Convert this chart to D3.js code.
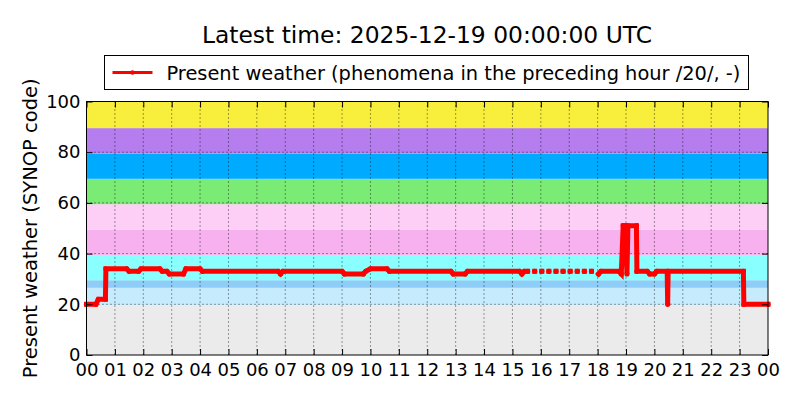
<!DOCTYPE html>
<html>
<head>
<meta charset="utf-8">
<script src="https://cdn.jsdelivr.net/npm/d3@7"></script>
<style>
  body { margin: 0; background: #fff; }
  text { font-family: "DejaVu Sans", sans-serif; fill: #000; }
</style>
</head>
<body>
<div id="chart"></div>
<script>
// Data
var titleText = "Latest time: 2025-12-19 00:00:00 UTC";
var legendText = "Present weather (phenomena in the preceding hour /20/, -)";
var yLabel = "Present weather (SYNOP code)";

var hourTicks = ["00","01","02","03","04","05","06","07","08","09","10","11",
                 "12","13","14","15","16","17","18","19","20","21","22","23","00"];
var yTicks = [0, 20, 40, 60, 80, 100];

// Background bands of SYNOP code groups
var bandLows   = [0, 19.5, 26.5, 29.5, 39.5, 49.5, 59.5, 69.5, 79.5, 89.5];
var bandHighs  = [19.5, 26.5, 29.5, 39.5, 49.5, 59.5, 69.5, 79.5, 89.5, 100];
var bandColors = ["#ebebeb", "#c6ebfd", "#8dcdf7", "#8affff", "#f6b1ee",
                  "#fdcff6", "#7aeb74", "#00aaff", "#b57ded", "#f7ef3c"];

// Observation times (HH:MM, "24:00" = end of day) and codes; null = missing
var obsTimes = [
  "00:00","00:20","00:25","00:40","00:41","01:25","01:30","01:50","01:55","02:35",
  "02:40","02:50","02:55","03:25","03:30","04:00","04:05","06:45","06:50","06:55",
  "09:00","09:05","09:45","09:50","10:00","10:35","10:40","12:50","12:55","13:20",
  "13:25","15:15","15:20","15:25","15:32","15:40","15:47","15:55","16:02","16:10",
  "16:17","16:25","16:32","16:40","16:47","16:55","17:02","17:10","17:17","17:25",
  "17:32","17:40","17:47","17:55","18:02","18:07","18:45","18:50","18:54","18:58",
  "19:02","19:04","19:22","19:23","19:45","19:50","20:00","20:05","20:27","20:28",
  "20:29","23:08","23:09","24:00"
];
var obsValues = [
  20, 20, 22, 22, 34, 34, 33, 33, 34, 34,
  33, 33, 32, 32, 34, 34, 33, 33, 32, 33,
  33, 32, 32, 33, 34, 34, 33, 33, 32, 32,
  33, 33, 32, 33, 33, null, 33, null, 33, null,
  33, null, 33, null, 33, null, 33, null, 33, null,
  33, null, 33, null, 32, 33, 33, 32, 51, 51,
  32, 51, 51, 33, 33, 32, 32, 33, 33, 20,
  33, 33, 20, 20
];

var svgWidth = 800;
var svgHeight = 400;
var margin = { top: 101.5, right: 32, bottom: 45, left: 86.5 };
var width = svgWidth - margin.left - margin.right;
var height = svgHeight - margin.top - margin.bottom;

var svg = d3.select("#chart")
    .append("svg")
    .attr("width", svgWidth)
    .attr("height", svgHeight);

var g = svg.append("g")
    .attr("transform", "translate(" + margin.left + "," + margin.top + ")");

function toHours(s) {
    var p = s.split(":");
    return +p[0] + (+p[1]) / 60;
}

var points = obsTimes.map(function (t, i) {
    return { h: toHours(t), v: obsValues[i] };
});

var xScale = d3.scaleLinear().domain([0, 24]).range([0, width]);
var yScale = d3.scaleLinear().domain([0, 100]).range([height, 0]);

// bands
g.selectAll("rect.band")
    .data(bandLows)
    .enter()
    .append("rect")
    .attr("class", "band")
    .attr("x", 0)
    .attr("width", width)
    .attr("y", function (d, i) { return yScale(bandHighs[i]); })
    .attr("height", function (d, i) { return yScale(d) - yScale(bandHighs[i]); })
    .attr("fill", function (d, i) { return bandColors[i]; });

// grid
var hourIdx = d3.range(hourTicks.length);
g.selectAll("line.vgrid")
    .data(hourIdx.slice(1, -1))
    .enter()
    .append("line")
    .attr("x1", function (d) { return xScale(d); })
    .attr("x2", function (d) { return xScale(d); })
    .attr("y1", 0)
    .attr("y2", height)
    .attr("stroke", "#000")
    .attr("stroke-opacity", 0.75)
    .attr("stroke-dasharray", "1,3");

g.selectAll("line.hgrid")
    .data(yTicks.slice(1, -1))
    .enter()
    .append("line")
    .attr("x1", 0)
    .attr("x2", width)
    .attr("y1", function (d) { return yScale(d); })
    .attr("y2", function (d) { return yScale(d); })
    .attr("stroke", "#000")
    .attr("stroke-opacity", 0.75)
    .attr("stroke-dasharray", "1,3");

// data line
var line = d3.line()
    .defined(function (d) { return d.v !== null; })
    .x(function (d) { return xScale(d.h); })
    .y(function (d) { return yScale(d.v); });

g.append("path")
    .datum(points)
    .attr("fill", "none")
    .attr("stroke", "#ff0000")
    .attr("stroke-width", 5)
    .attr("stroke-linejoin", "miter")
    .attr("stroke-linecap", "square")
    .attr("d", line);

g.selectAll("circle.pt")
    .data(points.filter(function (d) { return d.v !== null; }))
    .enter()
    .append("circle")
    .attr("cx", function (d) { return xScale(d.h); })
    .attr("cy", function (d) { return yScale(d.v); })
    .attr("r", 2.6)
    .attr("fill", "#ff0000");

// axes (ticks inside, on all four sides)
var tickLen = 6;
var xAxis = d3.axisBottom(xScale)
    .tickValues(hourIdx)
    .tickFormat(function (d) { return hourTicks[d]; })
    .tickSizeInner(-tickLen)
    .tickSizeOuter(0)
    .tickPadding(8);
var yAxis = d3.axisLeft(yScale)
    .tickValues(yTicks)
    .tickSizeInner(-tickLen)
    .tickSizeOuter(0)
    .tickPadding(6);

g.append("g")
    .attr("class", "xAxis")
    .attr("transform", "translate(0," + height + ")")
    .call(xAxis);
g.append("g")
    .attr("class", "yAxis")
    .call(yAxis);
g.append("g")
    .call(d3.axisTop(xScale).tickValues(hourIdx).tickFormat("").tickSizeInner(-tickLen).tickSizeOuter(0));
g.append("g")
    .attr("transform", "translate(" + width + ",0)")
    .call(d3.axisRight(yScale).tickValues(yTicks).tickFormat("").tickSizeInner(-tickLen).tickSizeOuter(0));

g.selectAll(".domain").remove();
g.selectAll(".tick line").attr("stroke", "#000");
g.selectAll(".xAxis text, .yAxis text")
    .style("font-size", "18px")
    .style("font-family", "DejaVu Sans");

// frame
g.append("rect")
    .attr("width", width)
    .attr("height", height)
    .attr("fill", "none")
    .attr("stroke", "#000")
    .attr("stroke-width", 1);

// y label
svg.append("text")
    .attr("transform", "translate(37," + (margin.top + height / 2) + ")rotate(-90)")
    .attr("text-anchor", "middle")
    .style("font-size", "19.5px")
    .text(yLabel);

// title
svg.append("text")
    .attr("x", 427)
    .attr("y", 43)
    .attr("text-anchor", "middle")
    .style("font-size", "23.4px")
    .text(titleText);

// legend
var legend = svg.append("g").attr("transform", "translate(104.5,55.5)");
legend.append("rect")
    .attr("width", 644)
    .attr("height", 34)
    .attr("fill", "#fff")
    .attr("stroke", "#000");
legend.append("line")
    .attr("x1", 8).attr("x2", 48)
    .attr("y1", 17).attr("y2", 17)
    .attr("stroke", "#ff0000")
    .attr("stroke-width", 3);
legend.append("circle")
    .attr("cx", 28).attr("cy", 17).attr("r", 2.2)
    .attr("fill", "#ff0000");
legend.append("text")
    .attr("x", 62)
    .attr("y", 24)
    .style("font-size", "19.4px")
    .text(legendText);
</script>
</body>
</html>
